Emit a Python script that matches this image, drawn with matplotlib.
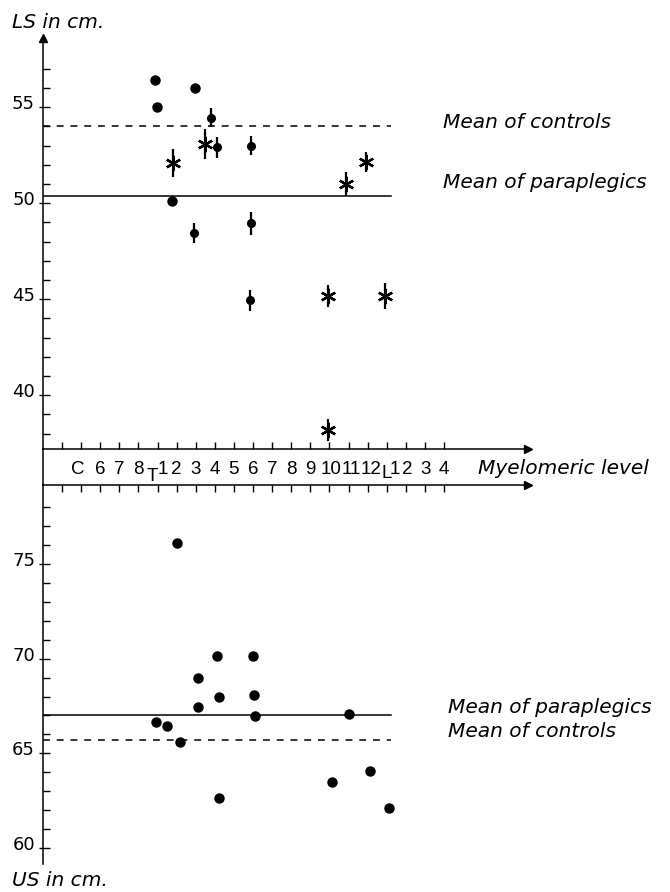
import matplotlib
matplotlib.use("Agg")
import matplotlib.pyplot as plt
from matplotlib.lines import Line2D
from matplotlib.ticker import FixedLocator, NullFormatter
import matplotlib.transforms as mtransforms

# ---------------- data ----------------
level_ticks = list(range(-4, 17))
level_labels = ["C", "6", "7", "8", "1", "2", "3", "4", "5", "6", "7", "8",
                "9", "10", "11", "12", "1", "2", "3", "4"]
level_label_pos = [-3.2, -2, -1, 0, 1.27, 2, 3, 4, 5, 6, 7, 8,
                   9, 10.1, 11.15, 12.2, 13.45, 14.1, 15.05, 16.0]
region_letters = ["T", "L"]
region_letter_pos = [0.74, 12.98]

# LS (top panel)
ls_dot_x = [0.85, 0.95, 2.95, 1.75]
ls_dot_y = [56.4, 55.0, 56.0, 50.1]
ls_bar_x = [3.8, 4.1, 5.9, 5.9, 2.9, 5.85]
ls_bar_y = [54.45, 52.9, 53.0, 48.95, 48.45, 44.95]
ls_bar_err = [0.5, 0.55, 0.5, 0.6, 0.52, 0.55]
ls_star_x = [1.8, 3.5, 10.85, 11.9, 9.9, 12.9, 9.95]
ls_star_y = [52.1, 53.1, 51.0, 52.15, 45.15, 45.15, 38.2]
ls_star_err = [0.73, 0.78, 0.63, 0.52, 0.57, 0.68, 0.57]
ls_mean_controls = 54.0
ls_mean_paraplegics = 50.35
ls_yticks = [40, 45, 50, 55]

# US (bottom panel)
us_x = [0.9, 1.5, 2.0, 2.15, 3.1, 3.1, 4.1, 4.2, 4.2, 6.0, 6.05, 6.1,
        10.15, 11.05, 12.15, 13.1]
us_y = [66.65, 66.45, 76.1, 65.6, 68.97, 67.45, 70.15, 68.0, 62.64, 70.15,
        68.1, 66.97, 63.5, 67.06, 64.05, 62.1]
us_mean_paraplegics = 67.0
us_mean_controls = 65.7
us_yticks = [60, 65, 70, 75]

# ---------------- layout ----------------
W, H = 670, 892
fig = plt.figure(figsize=(W / 100, H / 100), dpi=100)


def fx(px):
    return px / W


def fy(py):
    return 1 - py / H


AX_L, AX_R = 43, 528
ax1 = fig.add_axes([fx(AX_L), fy(449), (AX_R - AX_L) / W, (449 - 38) / H])
ax2 = fig.add_axes([fx(AX_L), fy(864), (AX_R - AX_L) / W, (864 - 485) / H])

XLIM = (-5, 20.4)
LINE_END = 13.2
LW = 1.1
num_font = dict(family="DejaVu Sans", size=13)
ital_font = dict(family="DejaVu Sans", style="italic", size=14.5)

ax1.set_xlim(*XLIM)
ax1.set_ylim(37.2, 58.6)
ax2.set_xlim(*XLIM)
ax2.set_ylim(59.15, 79.18)

for ax in (ax1, ax2):
    ax.patch.set_visible(False)
    ax.spines["right"].set_visible(False)
    ax.spines["left"].set_linewidth(LW)
ax1.spines["top"].set_visible(False)
ax1.spines["bottom"].set_linewidth(LW)
ax2.spines["bottom"].set_visible(False)
ax2.spines["top"].set_linewidth(LW)

# x ticks
ax1.set_xticks(level_ticks)
ax1.xaxis.set_major_formatter(NullFormatter())
ax1.tick_params(axis="x", direction="in", length=5, width=1.0, bottom=True, top=False)
ax2.xaxis.tick_top()
ax2.set_xticks(level_ticks)
ax2.xaxis.set_major_formatter(NullFormatter())
ax2.tick_params(axis="x", direction="in", length=5, width=1.0, top=True, bottom=False)

# y ticks
for ax, majors, lo, hi in ((ax1, ls_yticks, 38, 57), (ax2, us_yticks, 60, 78)):
    ax.yaxis.remove_overlapping_locs = False
    ax.yaxis.set_major_locator(FixedLocator(majors))
    ax.yaxis.set_minor_locator(FixedLocator(list(range(lo, hi + 1))))
    ax.yaxis.set_major_formatter(NullFormatter())
    ax.tick_params(axis="y", which="minor", direction="in", length=5, width=1.0)
    ax.tick_params(axis="y", which="major", direction="out", length=3, width=1.0)
    off = mtransforms.offset_copy(ax.transData, fig=fig, x=-8, y=3, units="dots")
    for v in majors:
        ax.text(XLIM[0], v, str(v), transform=off, ha="right", va="center", **num_font)

# arrows
ax1.plot([0], [1], marker="^", ms=6, color="k", transform=ax1.transAxes, clip_on=False)
ax1.plot([1], [0], marker=">", ms=6, color="k", transform=ax1.transAxes, clip_on=False)
ax2.plot([1], [1], marker=">", ms=6, color="k", transform=ax2.transAxes, clip_on=False)

# connecting vertical line through label strip
fig.add_artist(Line2D([fx(AX_L), fx(AX_L)], [fy(449), fy(485)], color="k", lw=LW,
                      transform=fig.transFigure))

# level labels
for s, x in zip(level_labels, level_label_pos):
    xf = ax1.transData.transform((x, 0))[0] / W
    fig.text(xf, fy(474), s, ha="center", va="baseline", family="Liberation Sans", size=13.5)
for s, x in zip(region_letters, region_letter_pos):
    xf = ax1.transData.transform((x, 0))[0] / W
    fig.text(xf, fy(481 if s == "T" else 478), s, ha="center", va="baseline",
             family="Liberation Sans", size=13.5)
fig.text(fx(478), fy(474), "Myelomeric level", ha="left", va="baseline", **ital_font)

# axis titles
fig.text(fx(12), fy(28), "LS in cm.", ha="left", va="baseline", **ital_font)
fig.text(fx(12), fy(886), "US in cm.", ha="left", va="baseline", **ital_font)

# mean lines
ax1.plot([XLIM[0], LINE_END], [ls_mean_controls] * 2, color="k", lw=LW, ls=(0, (4.5, 4.5)))
ax1.plot([XLIM[0], LINE_END], [ls_mean_paraplegics] * 2, color="k", lw=LW)
ax2.plot([XLIM[0], LINE_END], [us_mean_paraplegics] * 2, color="k", lw=LW)
ax2.plot([XLIM[0], LINE_END], [us_mean_controls] * 2, color="k", lw=LW, ls=(0, (4.5, 4.5)))

fig.text(fx(443), fy(128), "Mean of controls", ha="left", va="baseline", **ital_font)
fig.text(fx(443), fy(188), "Mean of paraplegics", ha="left", va="baseline", **ital_font)
fig.text(fx(448), fy(713), "Mean of paraplegics", ha="left", va="baseline", **ital_font)
fig.text(fx(448), fy(737), "Mean of controls", ha="left", va="baseline", **ital_font)

# points
ax1.plot(ls_dot_x, ls_dot_y, "o", color="k", ms=6.5, clip_on=False)
ax1.errorbar(ls_bar_x, ls_bar_y, yerr=ls_bar_err, fmt="o", color="k", ms=5.5,
             elinewidth=1.6, capsize=0)
ax1.errorbar(ls_star_x, ls_star_y, yerr=ls_star_err, fmt="none", ecolor="k",
             elinewidth=1.6, capsize=0)
ax1.plot(ls_star_x, ls_star_y, linestyle="none", marker=(6, 2, 0), color="k",
         ms=11, mew=1.7)

ax2.plot(us_x, us_y, "o", color="k", ms=6.5, clip_on=False)

fig.savefig("out.png", dpi=100)
